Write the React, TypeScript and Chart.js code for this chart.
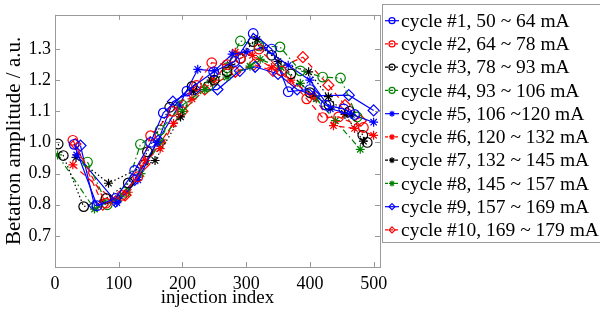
import React, { useEffect, useRef } from 'react';
import { Chart, registerables } from 'chart.js';

Chart.register(...registerables);

// ---- data ----
const c1X = [30, 66, 95, 125, 150, 170, 207, 249, 282, 311, 340, 366, 400, 425, 453, 470];
const c1Y = [0.994, 0.797, 0.82, 0.91, 1.0, 1.095, 1.165, 1.227, 1.26, 1.35, 1.3, 1.163, 1.17, 1.12, 1.108, 1.09];

const c2X = [28, 80, 105, 130, 150, 185, 222, 246, 270, 291, 320, 355, 395, 420, 445, 484];
const c2Y = [1.007, 0.805, 0.83, 0.89, 1.022, 1.1, 1.183, 1.256, 1.25, 1.27, 1.3, 1.23, 1.14, 1.08, 1.082, 1.048];

const c3X = [5, 13, 45, 80, 115, 145, 180, 215, 250, 270, 291, 311, 340, 370, 400, 430, 462, 483, 490];
const c3Y = [0.995, 0.958, 0.794, 0.82, 0.87, 0.97, 1.113, 1.18, 1.2, 1.227, 1.27, 1.324, 1.28, 1.22, 1.16, 1.12, 1.1, 1.023, 1.0];

const c4X = [51, 82, 110, 134, 165, 200, 240, 270, 291, 320, 353, 385, 420, 448, 474];
const c4Y = [0.937, 0.8, 0.84, 0.994, 1.04, 1.12, 1.18, 1.24, 1.326, 1.31, 1.307, 1.23, 1.21, 1.207, 1.082];

const c5X = [34, 97, 130, 160, 195, 224, 250, 278, 300, 327, 366, 400, 432, 465, 500];
const c5Y = [0.96, 0.807, 0.88, 1.0, 1.12, 1.235, 1.23, 1.284, 1.29, 1.305, 1.248, 1.2, 1.108, 1.09, 1.065];

const c6X = [28, 90, 115, 142, 165, 186, 215, 250, 283, 310, 340, 370, 405, 437, 470, 500];
const c6Y = [0.928, 0.817, 0.84, 0.942, 0.98, 1.061, 1.14, 1.2, 1.29, 1.28, 1.24, 1.2, 1.15, 1.054, 1.045, 1.023];

const c7X = [33, 84, 157, 197, 217, 245, 275, 317, 350, 398, 429, 455, 484];
const c7Y = [0.952, 0.869, 0.942, 1.082, 1.165, 1.2, 1.25, 1.331, 1.26, 1.227, 1.147, 1.09, 1.004];

const c8X = [4, 62, 100, 135, 165, 200, 235, 270, 306, 322, 355, 385, 410, 440, 479];
const c8Y = [0.96, 0.786, 0.82, 0.9, 1.0, 1.1, 1.17, 1.21, 1.245, 1.267, 1.24, 1.19, 1.14, 1.07, 0.978];

const c9X = [40, 62, 95, 125, 162, 185, 220, 255, 290, 314, 350, 380, 408, 461, 500];
const c9Y = [0.99, 0.797, 0.81, 0.88, 1.006, 1.131, 1.17, 1.17, 1.23, 1.243, 1.22, 1.17, 1.15, 1.152, 1.103];

const c10X = [32, 75, 110, 140, 165, 200, 235, 283, 312, 342, 389, 429, 455, 480];
const c10Y = [0.995, 0.8, 0.83, 0.93, 1.0, 1.1, 1.17, 1.227, 1.25, 1.23, 1.274, 1.184, 1.12, 1.07];

const seriesX = [c1X, c2X, c3X, c4X, c5X, c6X, c7X, c8X, c9X, c10X];
const seriesY = [c1Y, c2Y, c3Y, c4Y, c5Y, c6Y, c7Y, c8Y, c9Y, c10Y];

const legendLabels = [
  'cycle #1, 50 ~ 64 mA',
  'cycle #2, 64 ~ 78 mA',
  'cycle #3, 78 ~ 93 mA',
  'cycle #4, 93 ~ 106 mA',
  'cycle #5, 106 ~120 mA',
  'cycle #6, 120 ~ 132 mA',
  'cycle #7, 132 ~ 145 mA',
  'cycle #8, 145 ~ 157 mA',
  'cycle #9, 157 ~ 169 mA',
  'cycle #10, 169 ~ 179 mA',
];

const xTicks = [0, 100, 200, 300, 400, 500];
const yTicks = [0.7, 0.8, 0.9, 1.0, 1.1, 1.2, 1.3];

// ---- styles ----
const BLUE = '#0000ff';
const RED = '#ff0000';
const BLACK = '#000000';
const GREEN = '#008000';
const seriesColors = [BLUE, RED, BLACK, GREEN, BLUE, RED, BLACK, GREEN, BLUE, RED];
const seriesMarkers = ['circle', 'circle', 'circle', 'circle', 'star', 'star', 'star', 'star', 'diamond', 'diamond'];
const DASH_SOLID: number[] = [];
const DASH_DASHED = [6, 4];
const DASH_DOTTED = [1.5, 2.5];
const DASH_DOTDASH = [6, 3, 1.5, 3];
const dashFor = (c: string) => (c === BLUE ? DASH_SOLID : c === RED ? DASH_DASHED : c === BLACK ? DASH_DOTTED : DASH_DOTDASH);

const FONT = '"Liberation Serif", "Times New Roman", serif';
const FRAME = '#9a9a9a';

function drawMarker(ctx: CanvasRenderingContext2D, kind: string, x: number, y: number, r: number, color: string) {
  ctx.save();
  ctx.setLineDash([]);
  ctx.strokeStyle = color;
  ctx.lineWidth = 1.2;
  ctx.beginPath();
  if (kind === 'circle') {
    ctx.arc(x, y, r, 0, Math.PI * 2);
  } else if (kind === 'diamond') {
    ctx.moveTo(x, y - r);
    ctx.lineTo(x + r, y);
    ctx.lineTo(x, y + r);
    ctx.lineTo(x - r, y);
    ctx.closePath();
  } else {
    ctx.moveTo(x - r, y);
    ctx.lineTo(x + r, y);
    ctx.moveTo(x, y - r);
    ctx.lineTo(x, y + r);
    const d = r * 0.7071;
    ctx.moveTo(x - d, y - d);
    ctx.lineTo(x + d, y + d);
    ctx.moveTo(x - d, y + d);
    ctx.lineTo(x + d, y - d);
  }
  ctx.stroke();
  ctx.restore();
}

const framePlugin = {
  id: 'framePlugin',
  afterDraw(chart: any) {
    const { ctx, chartArea: a, scales } = chart;
    ctx.save();
    ctx.strokeStyle = FRAME;
    ctx.lineWidth = 1;
    ctx.setLineDash([]);
    ctx.strokeRect(Math.round(a.left) + 0.5, Math.round(a.top) + 0.5, Math.round(a.right - a.left), Math.round(a.bottom - a.top));
    ctx.beginPath();
    const tl = 5;
    xTicks.forEach((v) => {
      const px = Math.round(scales.x.getPixelForValue(v)) + 0.5;
      ctx.moveTo(px, a.bottom);
      ctx.lineTo(px, a.bottom - tl);
      ctx.moveTo(px, a.top);
      ctx.lineTo(px, a.top + tl);
    });
    yTicks.forEach((v) => {
      const py = Math.round(scales.y.getPixelForValue(v)) + 0.5;
      ctx.moveTo(a.left, py);
      ctx.lineTo(a.left + tl, py);
      ctx.moveTo(a.right, py);
      ctx.lineTo(a.right - tl, py);
    });
    ctx.stroke();

    ctx.fillStyle = '#000';
    ctx.font = `19px ${FONT}`;
    ctx.textAlign = 'center';
    ctx.textBaseline = 'middle';
    ctx.fillText('injection index', (a.left + a.right) / 2, 298);
    ctx.save();
    ctx.font = `21px ${FONT}`;
    ctx.translate(14, (a.top + a.bottom) / 2);
    ctx.rotate(-Math.PI / 2);
    ctx.fillText('Betatron amplitude / a.u.', 0, 0);
    ctx.restore();

    // legend
    const lx = 382.5;
    const ly = 4.5;
    ctx.fillStyle = '#fff';
    ctx.fillRect(lx, ly, 240, 238);
    ctx.strokeStyle = FRAME;
    ctx.lineWidth = 1;
    ctx.strokeRect(lx, ly, 240, 238);
    ctx.font = `19.5px ${FONT}`;
    ctx.textAlign = 'left';
    ctx.textBaseline = 'middle';
    legendLabels.forEach((label, i) => {
      const cy = 20.7 + i * 23.25;
      const col = seriesColors[i];
      ctx.save();
      ctx.strokeStyle = col;
      ctx.lineWidth = 1.2;
      ctx.setLineDash(dashFor(col).length ? [3, 2] : []);
      ctx.beginPath();
      ctx.moveTo(385, cy);
      ctx.lineTo(399, cy);
      ctx.stroke();
      ctx.restore();
      drawMarker(ctx, seriesMarkers[i], 392, cy, 3, col);
      ctx.fillStyle = '#000';
      ctx.fillText(label, 401, cy + 1);
    });
    ctx.restore();
  },
};

const pointStyleFor = (m: string) => (m === 'circle' ? 'circle' : m === 'star' ? 'star' : 'rectRot');

export default function App() {
  const ref = useRef<HTMLCanvasElement | null>(null);
  useEffect(() => {
    document.body.style.margin = '0';
    const canvas = ref.current;
    if (!canvas) return;
    const datasets = seriesX.map((xs, i) => {
      const col = seriesColors[i];
      const m = seriesMarkers[i];
      return {
        label: legendLabels[i],
        data: xs.map((x, j) => ({ x, y: seriesY[i][j] })),
        showLine: true,
        borderColor: col,
        borderWidth: 1.2,
        borderDash: dashFor(col),
        backgroundColor: 'rgba(0,0,0,0)',
        pointStyle: pointStyleFor(m),
        pointRadius: m === 'circle' ? 4.8 : m === 'star' ? 4.5 : 5.5,
        pointBorderColor: col,
        pointBackgroundColor: 'rgba(0,0,0,0)',
        pointBorderWidth: 1.2,
        tension: 0,
        fill: false,
      };
    });
    const chart = new Chart(canvas, {
      type: 'scatter',
      data: { datasets },
      options: {
        animation: false,
        responsive: false,
        devicePixelRatio: 1,
        layout: { padding: { left: 0, right: 220, top: 6, bottom: 0 } },
        plugins: { legend: { display: false }, tooltip: { enabled: false } },
        scales: {
          x: {
            type: 'linear',
            min: 0,
            max: 510,
            grid: { display: false, drawTicks: false },
            border: { display: false },
            ticks: { color: '#000', font: { family: FONT, size: 18 }, padding: 6, maxRotation: 0 },
            afterBuildTicks: (s: any) => {
              s.ticks = xTicks.map((v) => ({ value: v }));
            },
            afterFit: (s: any) => {
              s.height = 44;
            },
          },
          y: {
            type: 'linear',
            min: 0.6,
            max: 1.41,
            grid: { display: false, drawTicks: false },
            border: { display: false },
            ticks: { color: '#000', font: { family: FONT, size: 18 }, padding: 4 },
            afterBuildTicks: (s: any) => {
              s.ticks = yTicks.map((v) => ({ value: v }));
            },
            afterFit: (s: any) => {
              s.width = 55;
            },
          },
        },
      },
      plugins: [framePlugin],
    } as any);
    return () => chart.destroy();
  }, []);
  return <canvas ref={ref} width={600} height={311} style={{ display: 'block' }} />;
}
